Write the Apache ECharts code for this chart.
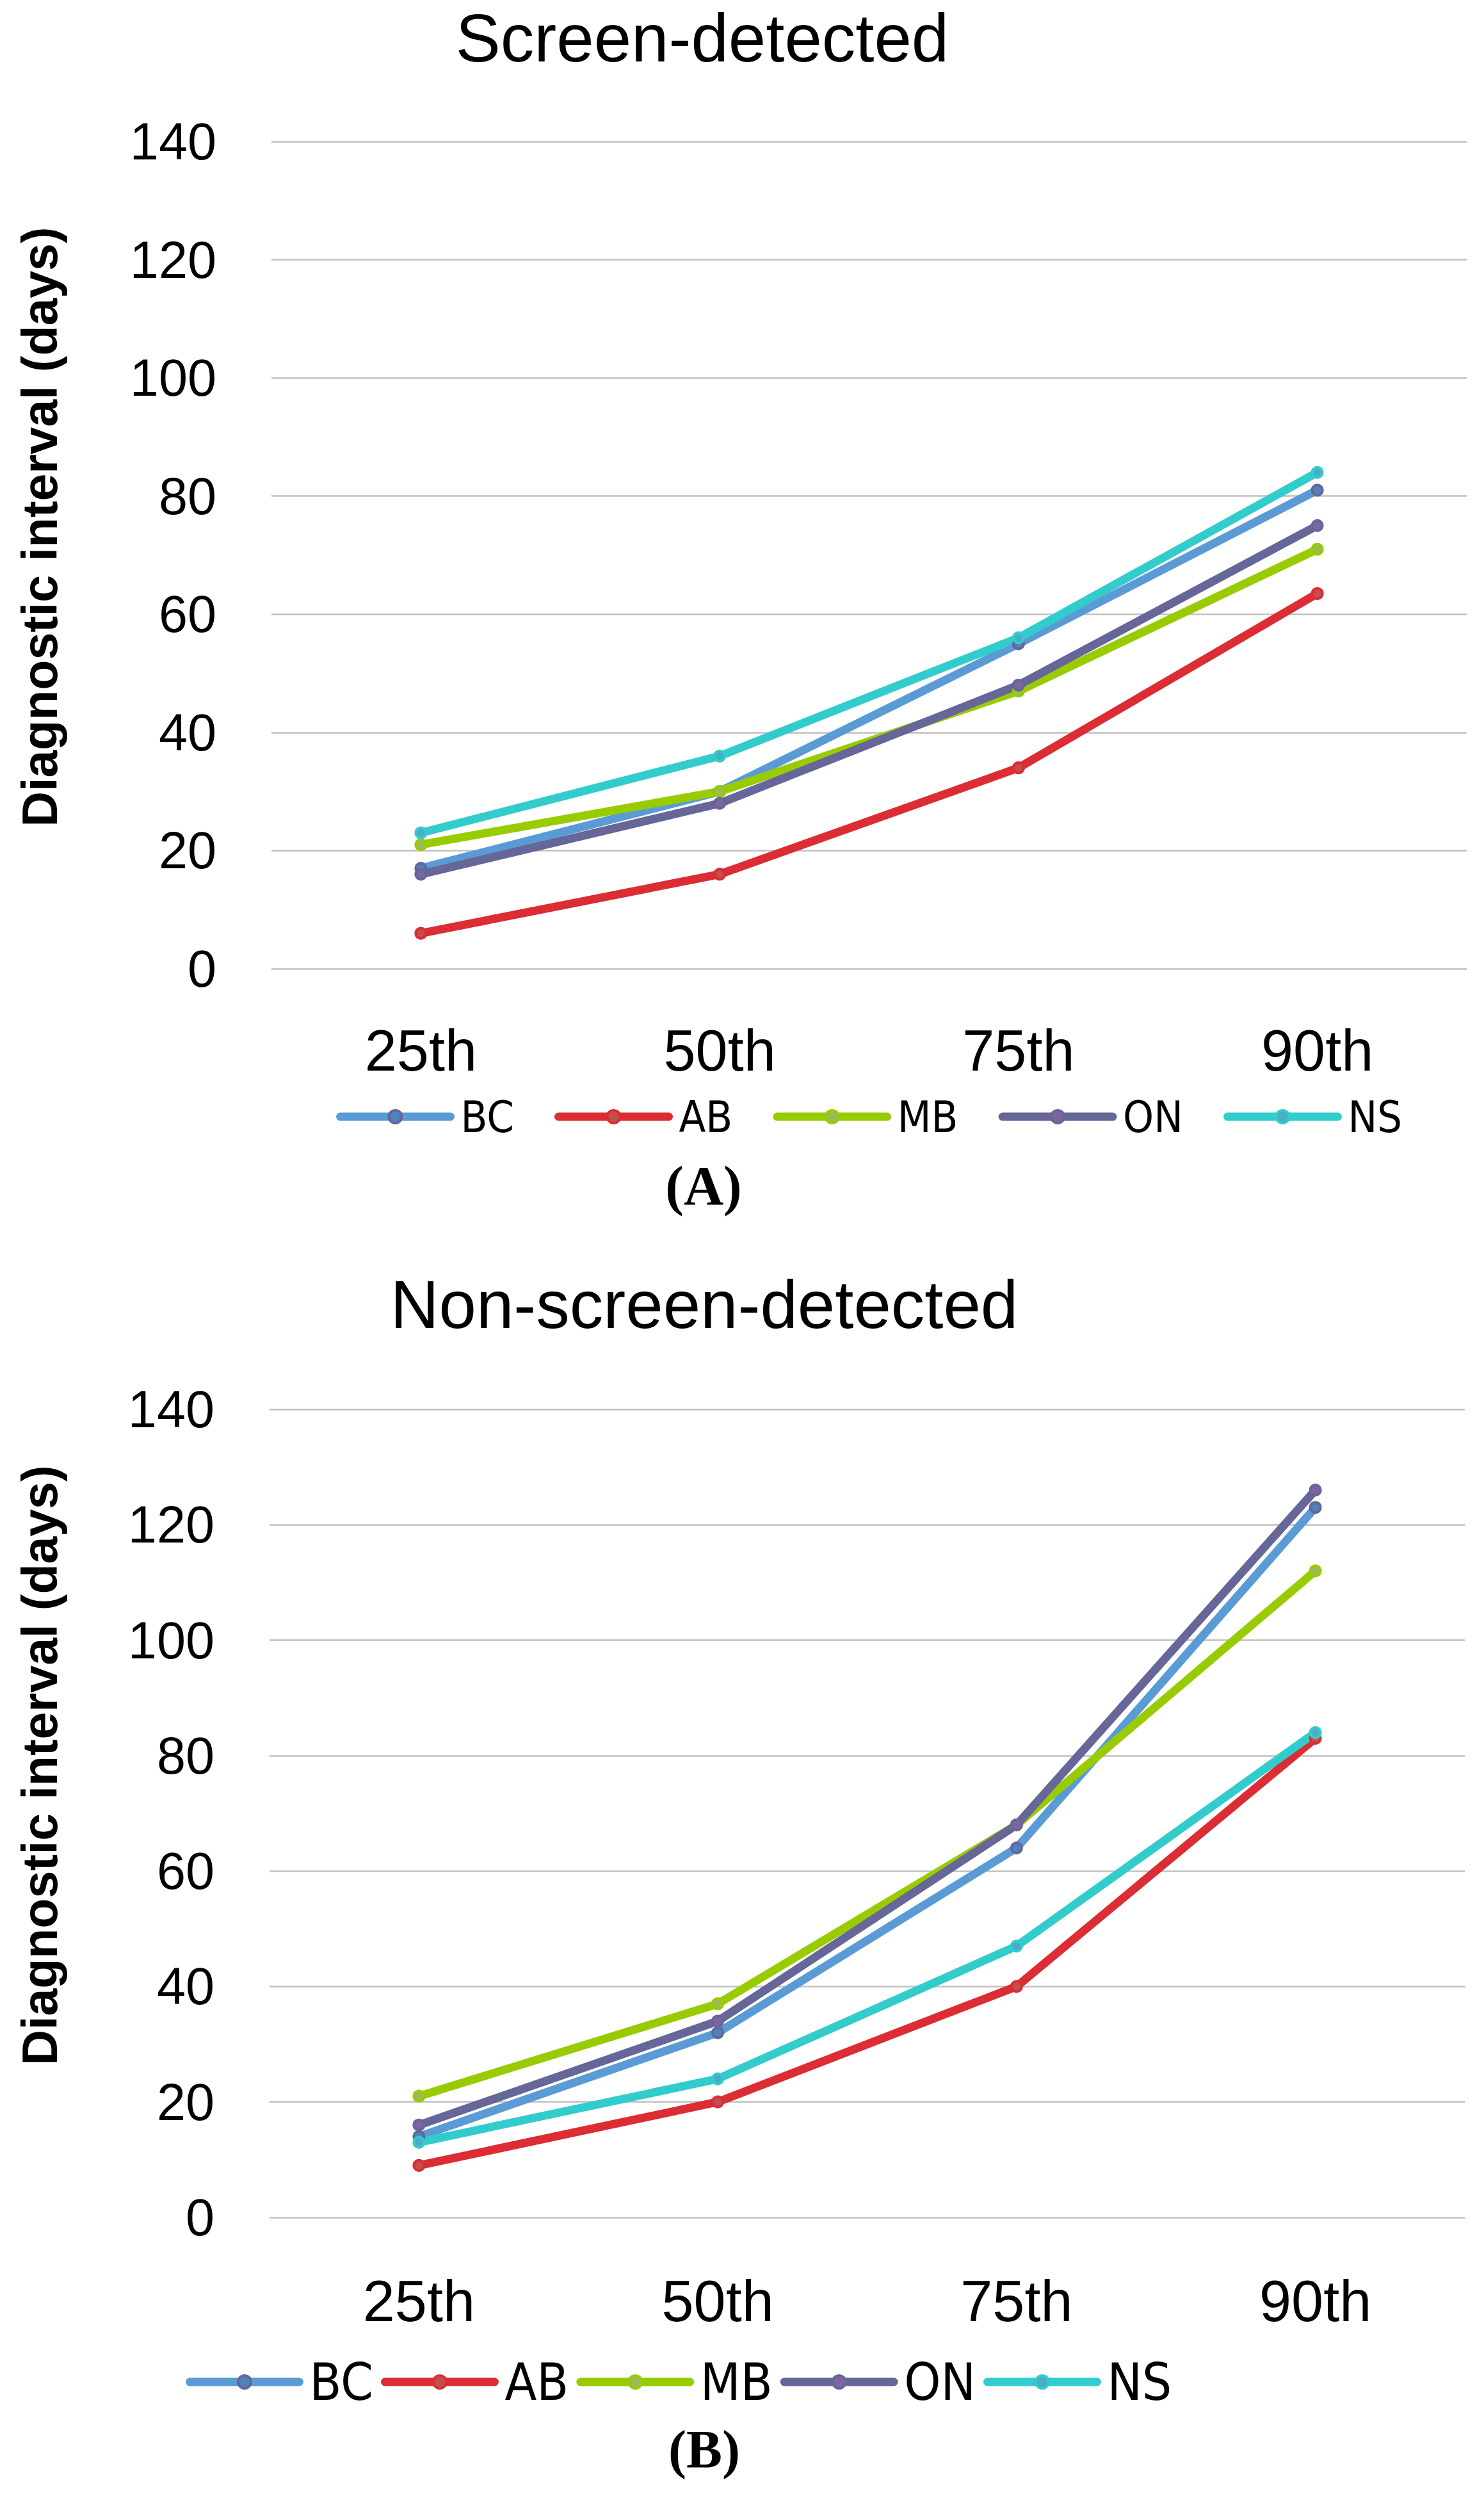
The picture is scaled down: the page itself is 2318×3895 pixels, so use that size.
<!DOCTYPE html>
<html>
<head>
<meta charset="utf-8">
<script src="https://cdn.jsdelivr.net/npm/echarts@6/dist/echarts.min.js"></script>
<style>
html,body{margin:0;padding:0;background:#fff;}
#c{width:2318px;height:3895px;}
</style>
</head>
<body>
<div id="c"></div>
<script>
// ---- data ----
const categories = ['25th', '50th', '75th', '90th'];
const seriesNames = ['BC', 'AB', 'MB', 'ON', 'NS'];
const yTicks = [0, 20, 40, 60, 80, 100, 120, 140];

// Panel A: Screen-detected
const screenBC = [17, 30, 55, 81];
const screenAB = [6, 16, 34, 63.5];
const screenMB = [21, 30, 47, 71];
const screenON = [16, 28, 48, 75];
const screenNS = [23, 36, 56, 84];

// Panel B: Non-screen-detected
const nonScreenBC = [14, 32, 64, 123];
const nonScreenAB = [9, 20, 40, 83];
const nonScreenMB = [21, 37, 68, 112];
const nonScreenON = [16, 34, 68, 126];
const nonScreenNS = [13, 24, 47, 84];

const titleA = 'Screen-detected';
const titleB = 'Non-screen-detected';
const yName = 'Diagnostic interval (days)';

// ---- styles ----
const lineColors = {BC: '#5b9bd5', AB: '#dc2c34', MB: '#99cc00', ON: '#666699', NS: '#33cccc'};
const markerFill = {BC: '#4f81bd', AB: '#c0504d', MB: '#9bbb59', ON: '#8064a2', NS: '#4bacc6'};
const markerBorder = {BC: '#666699', AB: '#dc2c34', MB: '#99cc00', ON: '#666699', NS: '#33cccc'};

const SANS = "'Liberation Sans', Arial, sans-serif";
const NARROW = "'Liberation Sans Narrow', 'DejaVu Sans Condensed', sans-serif";
const SERIF = "'Liberation Serif', 'Times New Roman', serif";

const dataA = {BC: screenBC, AB: screenAB, MB: screenMB, ON: screenON, NS: screenNS};
const dataB = {BC: nonScreenBC, AB: nonScreenAB, MB: nonScreenMB, ON: nonScreenON, NS: nonScreenNS};

function makeSeries(data, idx) {
  return seriesNames.map(n => ({
    name: n,
    type: 'line',
    xAxisIndex: idx,
    yAxisIndex: idx,
    data: data[n],
    symbol: 'circle',
    symbolSize: 16,
    lineStyle: {color: lineColors[n], width: 13, cap: 'round', join: 'round'},
    itemStyle: {color: markerFill[n], borderColor: markerBorder[n], borderWidth: 4},
    emphasis: {disabled: true},
    animation: false
  }));
}

function legendData() {
  return seriesNames.map(n => ({
    name: n,
    itemStyle: {color: markerFill[n], borderColor: markerBorder[n], borderWidth: 4},
    lineStyle: {color: lineColors[n], width: 13, cap: 'round'}
  }));
}

function makeY(idx) {
  return {
    type: 'value', gridIndex: idx, min: 0, max: 140, interval: 20,
    axisLine: {show: false}, axisTick: {show: false},
    axisLabel: {fontFamily: SANS, fontSize: 81, color: '#000', margin: 86,
      formatter: v => (yTicks.indexOf(v) >= 0 ? String(v) : '')},
    splitLine: {show: true, lineStyle: {color: '#c0c0c0', width: 2.5}}
  };
}
function makeX(idx, margin) {
  return {
    type: 'category', gridIndex: idx, data: categories, boundaryGap: true,
    axisLine: {show: false}, axisTick: {show: false},
    axisLabel: {fontFamily: SANS, fontSize: 90, color: '#000', margin: margin},
    splitLine: {show: false}
  };
}

const chart = echarts.init(document.getElementById('c'), null, {renderer: 'svg'});
chart.setOption({
  backgroundColor: '#ffffff',
  animation: false,
  grid: [
    {left: 424, right: 27, top: 221, height: 1292, containLabel: false},
    {left: 421, right: 30, top: 2201, height: 1262, containLabel: false}
  ],
  xAxis: [makeX(0, 83), makeX(1, 86)],
  yAxis: [makeY(0), makeY(1)],
  legend: [
    {
      left: 525, top: 1709, orient: 'horizontal', padding: 0,
      itemWidth: 172, itemHeight: 25, itemGap: 63,
      textStyle: {fontFamily: NARROW, fontSize: 68, color: '#000', lineHeight: 70, padding: [0, 0, 0, 11]},
      data: legendData(), selectedMode: false
    },
    {
      left: 290, top: 3679, orient: 'horizontal', padding: 0,
      itemWidth: 171, itemHeight: 25, itemGap: 12,
      textStyle: {fontFamily: NARROW, fontSize: 81, color: '#000', lineHeight: 82, padding: [0, 0, 0, 11]},
      data: legendData(), selectedMode: false
    }
  ],
  graphic: [
    {type: 'text', x: 1097, y: 59, style: {text: titleA, font: '105px ' + SANS, fill: '#000', align: 'center', verticalAlign: 'middle'}},
    {type: 'text', x: 1100, y: 2037, style: {text: titleB, font: '105px ' + SANS, fill: '#000', align: 'center', verticalAlign: 'middle'}},
    {type: 'text', x: 62, y: 823, rotation: Math.PI / 2, style: {text: yName, font: 'bold 77px ' + SANS, fill: '#000', align: 'center', verticalAlign: 'middle'}},
    {type: 'text', x: 62, y: 2757, rotation: Math.PI / 2, style: {text: yName, font: 'bold 77px ' + SANS, fill: '#000', align: 'center', verticalAlign: 'middle'}},
    {type: 'text', x: 1099, y: 1852, style: {text: '(A)', font: 'bold 86px ' + SERIF, fill: '#000', align: 'center', verticalAlign: 'middle'}},
    {type: 'text', x: 1100, y: 3825, style: {text: '(B)', font: 'bold 84px ' + SERIF, fill: '#000', align: 'center', verticalAlign: 'middle'}}
  ],
  series: makeSeries(dataA, 0).concat(makeSeries(dataB, 1))
});
</script>
</body>
</html>
